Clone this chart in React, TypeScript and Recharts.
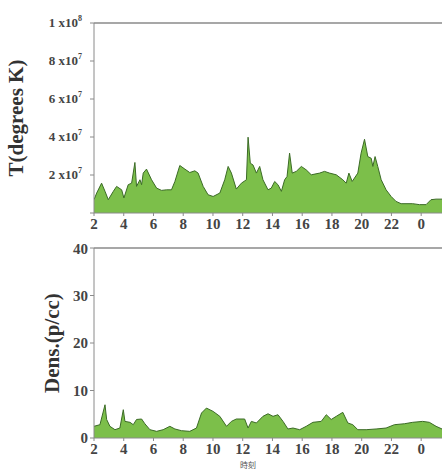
import React from "react";
import {
  AreaChart,
  Area,
  XAxis,
  YAxis,
  ReferenceLine,
} from "recharts";

// hours since midnight (values past 24 are the next day)
const tempHours = [
  2.0, 2.18, 2.51, 2.74, 2.96, 3.3, 3.52, 3.86, 4.01, 4.3, 4.53, 4.75, 4.86,
  5.09, 5.2, 5.31, 5.53, 5.87, 6.21, 6.54, 6.88, 7.21, 7.44, 7.77, 8.11, 8.44,
  8.78, 9.0, 9.34, 9.67, 10.01, 10.46, 10.79, 11.02, 11.24, 11.57, 11.91,
  12.25, 12.36, 12.51, 12.69, 12.92, 13.14, 13.36, 13.7, 13.92, 14.15, 14.37,
  14.6, 14.82, 14.98, 15.15, 15.33, 15.6, 15.94, 16.27, 16.61, 17.17, 17.5,
  17.84, 18.29, 18.73, 18.96, 19.14, 19.36, 19.74, 19.96, 20.19, 20.41, 20.64,
  20.75, 20.9, 21.08, 21.31, 21.64, 21.98, 22.31, 22.65, 22.98, 23.43, 23.88,
  24.33, 24.66, 25.0, 25.4,
];
// temperature in units of 10^7 K
const tempValues = [
  0.7, 1.05, 1.57, 1.14, 0.7, 1.14, 1.4, 1.22, 0.79, 1.49, 1.57, 2.66, 1.4,
  1.75, 1.49, 2.1, 2.31, 1.75, 1.31, 1.19, 1.22, 1.22, 1.66, 2.5, 2.31, 2.13,
  2.22, 2.1, 1.4, 0.96, 0.87, 1.05, 1.75, 2.45, 2.1, 1.26, 1.57, 1.75, 3.99,
  2.62, 2.53, 2.1, 2.45, 1.75, 1.22, 1.31, 1.66, 1.49, 1.14, 1.75, 1.92, 3.15,
  2.1, 2.19, 2.45, 2.27, 2.01, 2.1, 2.19, 2.1, 2.01, 1.75, 1.57, 2.1, 1.66,
  2.1, 3.15, 3.88, 2.97, 2.88, 2.45, 2.97, 2.45, 1.75, 1.22, 0.87, 0.61, 0.49,
  0.49, 0.49, 0.44, 0.44, 0.7, 0.73, 0.73,
];

const densHours = [
  2.0, 2.4, 2.74, 2.85, 3.07, 3.41, 3.74, 3.97, 4.08, 4.42, 4.64, 4.86, 5.2,
  5.42, 5.76, 6.21, 6.65, 7.1, 7.44, 7.88, 8.44, 8.89, 9.23, 9.56, 10.01,
  10.46, 10.91, 11.24, 11.57, 12.13, 12.36, 12.58, 12.92, 13.36, 13.7, 14.04,
  14.37, 14.71, 15.04, 15.38, 15.83, 16.27, 16.72, 17.28, 17.62, 17.95, 18.29,
  18.73, 19.07, 19.4, 19.74, 20.3, 20.97, 21.64, 22.2, 22.87, 23.43, 24.1,
  24.55, 25.0, 25.4,
];
// density in p/cc
const densValues = [
  2.46, 2.8, 7.0, 3.9, 2.46, 1.75, 2.1, 5.96, 3.5, 3.3, 2.8, 3.9, 4.0, 3.0,
  1.75, 1.4, 1.75, 2.46, 1.9, 1.54, 1.4, 2.1, 5.26, 6.3, 5.6, 4.56, 2.46, 3.5,
  4.0, 4.0, 2.1, 3.5, 3.16, 4.56, 5.1, 4.56, 4.9, 3.5, 1.9, 2.1, 1.75, 2.46,
  3.3, 3.5, 4.9, 3.9, 4.56, 5.4, 3.16, 2.8, 1.75, 1.75, 1.9, 2.1, 2.8, 3.0,
  3.3, 3.5, 3.3, 2.46, 1.9,
];

const hourTicks = [2, 4, 6, 8, 10, 12, 14, 16, 18, 20, 22, 24];
const tempTicks = [0, 2, 4, 6, 8, 10];
const densTicks = [0, 10, 20, 30, 40];

const tempData = tempHours.map((h, i) => ({ h, v: tempValues[i] }));
const densData = densHours.map((h, i) => ({ h, v: densValues[i] }));

const FILL = "#7cbf4a";
const LINE = "#3b6b26";
const AXIS = "#8a8a8a";
const FONT = "Liberation Serif";

const hourLabel = (h: number) => String(h % 24);

const tickStyle = {
  fontFamily: FONT,
  fontSize: 15,
  fontWeight: "bold",
  fill: "#444",
};

const titleStyle = {
  fontFamily: FONT,
  fontSize: 21,
  fontWeight: "bold",
  fill: "#333",
  textAnchor: "middle",
};

const SciTick = (props: any) => {
  const { x, y, payload } = props;
  const v = payload.value;
  if (v === 0) return null;
  const big = v >= 10;
  const mant = big ? v / 10 : v;
  const exp = big ? "8" : "7";
  return (
    <text
      x={x - 6}
      y={y + 4}
      textAnchor="end"
      fontFamily={FONT}
      fontSize={13}
      fontWeight="bold"
      fill="#444"
    >
      <tspan>{mant} x10</tspan>
      <tspan dy={-6} fontSize={8}>
        {exp}
      </tspan>
    </text>
  );
};

export default function App() {
  return (
    <div
      style={{
        position: "absolute",
        left: 0,
        top: 0,
        width: 442,
        height: 470,
        background: "#fff",
      }}
    >
      <AreaChart
        width={442}
        height={240}
        data={tempData}
        margin={{ top: 23, right: 0, left: 0, bottom: 0 }}
      >
        <XAxis
          dataKey="h"
          type="number"
          domain={[2, 25.4]}
          ticks={hourTicks}
          tickFormatter={hourLabel}
          allowDataOverflow
          height={27}
          stroke={AXIS}
          tickSize={3}
          tick={tickStyle}
        />
        <YAxis
          type="number"
          domain={[0, 10]}
          ticks={tempTicks}
          width={94}
          stroke={AXIS}
          tickSize={4}
          tick={<SciTick />}
          label={{
            value: "T(degrees K)",
            angle: -90,
            position: "insideLeft",
            offset: 16,
            style: titleStyle,
          }}
        />
        <ReferenceLine y={10} stroke={AXIS} strokeWidth={1.5} />
        <Area
          type="linear"
          dataKey="v"
          stroke={LINE}
          strokeWidth={1}
          fill={FILL}
          fillOpacity={1}
          isAnimationActive={false}
        />
      </AreaChart>
      <AreaChart
        width={442}
        height={230}
        data={densData}
        margin={{ top: 8, right: 0, left: 0, bottom: 0 }}
      >
        <XAxis
          dataKey="h"
          type="number"
          domain={[2, 25.4]}
          ticks={hourTicks}
          tickFormatter={hourLabel}
          allowDataOverflow
          height={32}
          stroke={AXIS}
          tickSize={3}
          tick={tickStyle}
        />
        <YAxis
          type="number"
          domain={[0, 40]}
          ticks={densTicks}
          width={94}
          stroke={AXIS}
          tickSize={4}
          tick={tickStyle}
          label={{
            value: "Dens.(p/cc)",
            angle: -90,
            position: "insideLeft",
            offset: 52,
            style: titleStyle,
          }}
        />
        <ReferenceLine y={40} stroke={AXIS} strokeWidth={1.5} />
        <Area
          type="linear"
          dataKey="v"
          stroke={LINE}
          strokeWidth={1}
          fill={FILL}
          fillOpacity={1}
          isAnimationActive={false}
        />
      </AreaChart>
      <div
        style={{
          position: "absolute",
          left: 240,
          top: 459,
          fontSize: 8,
          fontFamily: "'Noto Sans CJK JP', sans-serif",
          color: "#555",
        }}
      >
        時刻
      </div>
    </div>
  );
}
